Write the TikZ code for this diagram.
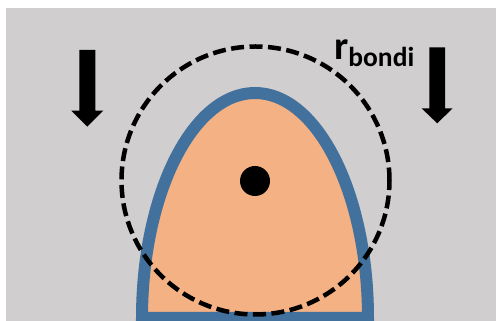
\documentclass[tikz,border=0pt]{standalone}
\usepackage{fontspec}
\setmainfont{Carlito}
\definecolor{bggray}{RGB}{208,206,206}
\definecolor{peach}{RGB}{244,177,131}
\definecolor{blob}{RGB}{65,113,156}
\tikzset{
  flowarrow/.style={fill=black},
  bondi/.style={draw=black, line width=4.5pt, dash pattern=on 13pt off 5.5pt},
}
\begin{document}
\begin{tikzpicture}[x=1pt,y=1pt]
\useasboundingbox (0,0) rectangle (496,321);
\clip (0,0) rectangle (496,321);
\fill[bggray] (6,0) rectangle (496,313);
% accretor body
\path[draw=blob, fill=peach, line width=12pt] (142,3) arc[start angle=180, end angle=0, x radius=113, y radius=225] -- cycle;
% central dot
\fill[black] (255,140) circle[radius=15];
% bondi radius
\draw[bondi] (255.5,140.5) circle[radius=134];
% flow arrows
\fill[flowarrow] (79.3,271) -- (95.3,271) -- (95.3,210.3) -- (103.3,210.3) -- (87.3,194.3) -- (71.3,210.3) -- (79.3,210.3) -- cycle;
\fill[flowarrow] (429.3,273.7) -- (445,273.7) -- (445,212.7) -- (452.7,212.7) -- (437.2,197.7) -- (421.6,212.7) -- (429.3,212.7) -- cycle;
% label
\node[anchor=base west, inner sep=0pt] (rb) at (334,261) {\fontsize{40}{42}\selectfont\bfseries r\raisebox{-7pt}{\fontsize{27.5}{30}\selectfont bondi}};
\end{tikzpicture}
\end{document}
